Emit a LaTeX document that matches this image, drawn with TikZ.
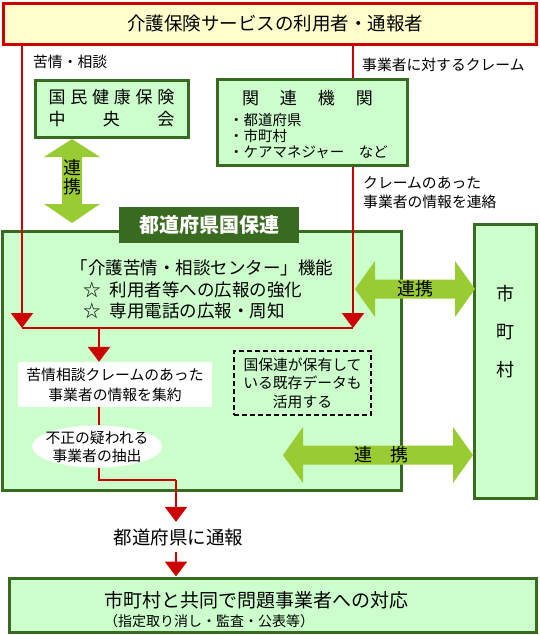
\documentclass[tikz,border=0pt]{standalone}
\usepackage{fontspec}
\setmainfont{Noto Sans CJK JP}
\usetikzlibrary{arrows.meta,shapes.geometric}
\definecolor{kred}{RGB}{204,0,0}
\definecolor{kgreen}{RGB}{56,106,32}
\definecolor{kfill}{RGB}{204,255,204}
\definecolor{karrow}{RGB}{153,204,51}
\definecolor{kyellow}{RGB}{255,255,204}
\newcommand\kfs[2]{\fontsize{#1}{#2}\selectfont}
\begin{document}
\begin{tikzpicture}[x=1pt,y=-1pt,
  gbox/.style={draw=kgreen, line width=3pt, fill=kfill, inner sep=0pt},
  redline/.style={draw=kred, line width=2.5pt},
  redarrow/.style={redline, -{Triangle[width=22pt,length=15pt]}},
  txt/.style={inner sep=0pt, align=center},
  small/.style={font={\kfs{14.8}{18}}},
  mid/.style={font={\kfs{17.5}{21}}},
  garrow/.style={fill=karrow}]
\useasboundingbox (0,0) rectangle (539,635);

% top box
\node[draw=kred, line width=3pt, fill=kyellow, minimum width=533pt, minimum height=41pt, inner sep=0pt, font={\kfs{18.5}{22}}] (top) at (269.5,23.5) {\hspace*{11pt}介護保険サービスの利用者・通報者};

% upper green boxes
\node[gbox, minimum width=153pt, minimum height=57pt, align=center, font={\kfs{17}{22}}] (chuo) at (111.5,108.5)
  {\hbox to 126pt{国\hfil 民\hfil 健\hfil 康\hfil 保\hfil 険}\\\hbox to 126pt{中\hfil 央\hfil 会}};
\node[gbox, minimum width=190pt, minimum height=86pt] (kanren) at (312,122) {};
\node[txt, font={\kfs{17}{20}}] (kanrent) at (307.5,98) {\hbox to 131pt{関\hfil 連\hfil 機\hfil 関}};
\node[txt, anchor=west, align=left, font={\kfs{14.5}{16}}] (kitems) at (229,136) {・都道府県\\・市町村\\・ケアマネジャー　など};

% main box
\node[gbox, minimum width=399pt, minimum height=259pt] (kokuho) at (201.5,360.5) {};
\node[fill=kgreen, minimum width=180pt, minimum height=36pt, inner sep=0pt, text=white, font={\kfs{20}{24}\bfseries}] (label) at (209,225) {都道府県国保連};

% municipality box
\node[gbox, minimum width=62pt, minimum height=274pt] (shichoson) at (505,361) {};
\node[txt, font={\kfs{18}{38}}] (sct) at (505,332) {市\\町\\村};

% bottom box
\node[gbox, minimum width=527pt, minimum height=54pt] (taio) at (272.5,605) {};
\node[txt, anchor=west, font={\kfs{19}{22}}] (taiot) at (104,600) {市町村と共同で問題事業者への対応};
\node[txt, anchor=west, font={\kfs{14}{16}}] (taios) at (104,621) {（指定取り消し・監査・公表等）};

% texts outside
\node[txt, anchor=west, small] (kujo) at (33,62) {苦情・相談};
\node[txt, anchor=west, small] (claim) at (362,65) {事業者に対するクレーム};
\node[txt, anchor=west, align=left, font={\kfs{14.8}{19}}] (renraku) at (363,192.5) {クレームのあった\\事業者の情報を連絡};

% main box texts
\node[txt, mid] (kinou) at (202,268) {「介護苦情・相談センター」機能};
\node[txt, anchor=west, mid] (kyoka) at (83,290) {☆\hspace{9pt}利用者等への広報の強化};
\node[txt, anchor=west, mid] (shuchi) at (83,311) {☆\hspace{9pt}専用電話の広報・周知};

\node[fill=white, minimum width=194pt, minimum height=45pt, inner sep=0pt, align=center, font={\kfs{14.8}{20}}] (shuyaku) at (115,384.5) {苦情相談クレームのあった\\事業者の情報を集約};
\node[ellipse, fill=white, minimum width=130pt, minimum height=42pt, inner sep=0pt] (chushutsu) at (97,446.5) {};
\node[txt, font={\kfs{14.8}{18}}] (chushutsut) at (97,446.5) {不正の疑われる\\事業者の抽出};
\node[draw, dash pattern=on 5pt off 3pt, line width=1.5pt, minimum width=137pt, minimum height=64pt, inner sep=0pt, align=center, font={\kfs{14.8}{18.5}}] (data) at (302.5,383) {国保連が保有して\\いる既存データも\\活用する};

\node[txt, minimum height=30pt, font={\kfs{18.5}{22}}] (tsuho) at (178.5,537) {都道府県に通報};

% green double arrows
\fill[garrow] (72,139) -- (100,157) -- (82,157) -- (82,204) -- (100,204) -- (72,223) -- (44,204) -- (62,204) -- (62,157) -- (44,157) -- cycle;
\node[txt, font={\kfs{18}{19}}] (renkei1) at (72,177.5) {連\\携};
\fill[garrow] (355,289) -- (375,261) -- (375,279.5) -- (455,279.5) -- (455,261) -- (475,289) -- (455,317) -- (455,298.5) -- (375,298.5) -- (375,317) -- cycle;
\node[txt, font={\kfs{18}{20}}] (renkei2) at (415,289) {連携};
\fill[garrow] (283,455) -- (303,427) -- (303,445.5) -- (453,445.5) -- (453,427) -- (473,455) -- (453,483) -- (453,464.5) -- (303,464.5) -- (303,483) -- cycle;
\node[txt, font={\kfs{18}{20}}] (renkei3) at (381.5,455) {連　携};

% red connectors
\coordinate (cl) at (22,328);
\coordinate (cr) at (353,328);
\coordinate (cm) at (99,328);
\coordinate (cb) at (99,480);
\coordinate (cc) at (176,480);
\draw[redline] (cl) -- (cr);
\draw[redarrow] (top.south -| cl) -- (cl);
\draw[redline] (top.south -| cr) -- (kanren.north -| cr);
\draw[redarrow] (kanren.south -| cr) -- (cr);
\draw[redarrow] (cm) -- (shuyaku.north -| cm);
\draw[redline] (shuyaku.south -| cm) -- (chushutsu.north -| cm);
\draw[redline] (chushutsu.south -| cm) -- (cb) -- (cc);
\draw[redarrow] (cc) -- (tsuho.north -| cc);
\draw[redarrow] (tsuho.south -| cc) -- (taio.north -| cc);
\end{tikzpicture}
\end{document}
